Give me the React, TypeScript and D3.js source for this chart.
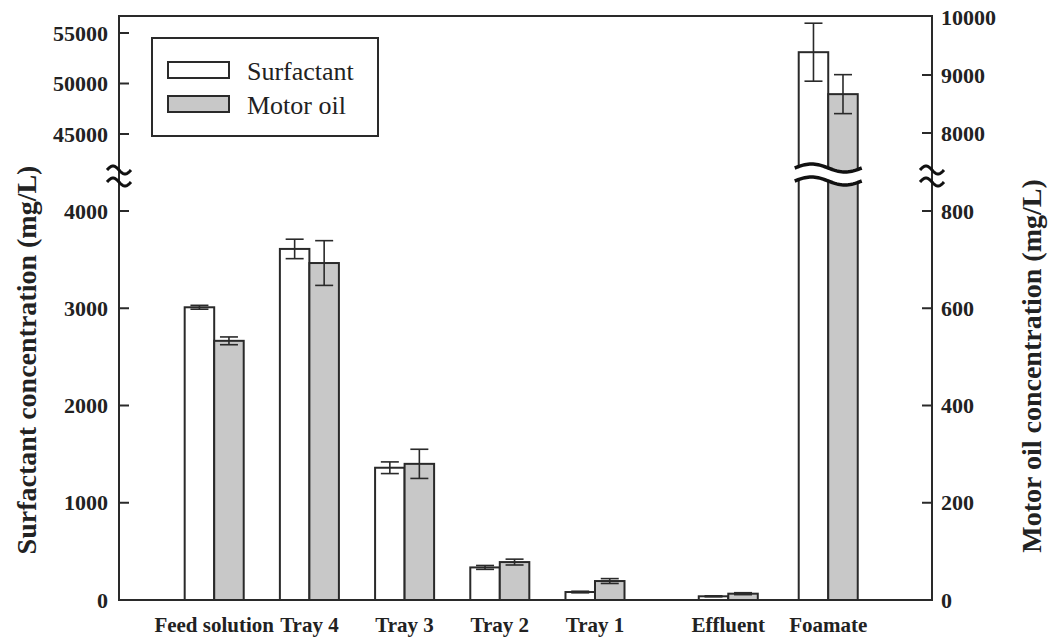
import React from "react";
import * as d3 from "d3";

const categories = ["Feed solution", "Tray 4", "Tray 3", "Tray 2", "Tray 1", "Effluent", "Foamate"];
const xPositions = [1, 2, 3, 4, 5, 6.4, 7.45];
const surfactant = [3010, 3610, 1360, 335, 82, 38, 53100];
const surfactantErr = [20, 100, 60, 20, 8, 5, 2870];
const motorOil = [533, 693, 280, 78, 39, 13, 8670];
const motorOilErr = [8, 46, 30, 6, 5, 2, 336];

const leftTicksLow = [0, 1000, 2000, 3000, 4000];
const leftTicksHigh = [45000, 50000, 55000];
const rightTicksLow = [0, 200, 400, 600, 800];
const rightTicksHigh = [8000, 9000, 10000];

const width = 1049;
const height = 639;
const margin = { top: 16, right: 117, bottom: 39, left: 119 };
const font = "Liberation Serif, DejaVu Serif, serif";
const ink = "#2a2a2a";

// wavy line used for the axis break marks
function wave(x0: number, x1: number, y: number, amp: number) {
  const pts: [number, number][] = d3.range(0, 41).map((i) => {
    const t = i / 40;
    return [x0 + (x1 - x0) * t, y - amp * Math.sin(2 * Math.PI * t)];
  });
  return d3.line()(pts) as string;
}

export default function App() {
  const x = d3
    .scaleLinear()
    .domain([0, 8.54])
    .range([margin.left, width - margin.right]);

  const bottom = height - margin.bottom;
  const leftLow = d3.scaleLinear().domain([0, 4000]).range([bottom, 211]);
  const leftHigh = d3.scaleLinear().domain([45000, 55000]).range([134, 33]);
  const rightLow = d3.scaleLinear().domain([0, 800]).range([bottom, 211]);
  const rightHigh = d3.scaleLinear().domain([8000, 10000]).range([133, 17]);

  const yLeft = (v: number) => (v > 4500 ? leftHigh(v) : leftLow(v));
  const yRight = (v: number) => (v > 900 ? rightHigh(v) : rightLow(v));

  const bw = x(0.31) - x(0);
  const capW = 18;
  const x0 = margin.left;
  const x1 = width - margin.right;
  const breakTop = 168;
  const breakBot = 181;

  const txt = { fontFamily: font };

  const errorBar = (cx: number, y: (v: number) => number, v: number, e: number, key: string) => (
    <g key={key} stroke={ink} strokeWidth={1.6}>
      <line x1={cx} x2={cx} y1={y(v + e)} y2={y(v - e)} />
      <line x1={cx - capW / 2} x2={cx + capW / 2} y1={y(v + e)} y2={y(v + e)} />
      <line x1={cx - capW / 2} x2={cx + capW / 2} y1={y(v - e)} y2={y(v - e)} />
    </g>
  );

  const foamIdx = categories.indexOf("Foamate");
  const fx = x(xPositions[foamIdx]);

  return (
    <svg
      width={width}
      height={height}
      style={{ position: "fixed", left: 0, top: 0, background: "#fff", fontFamily: font }}
    >
      {/* bars */}
      {categories.map((c, i) => {
        const cx = x(xPositions[i]);
        return (
          <g key={c}>
            <rect
              x={cx - bw}
              y={yLeft(surfactant[i])}
              width={bw}
              height={bottom - yLeft(surfactant[i])}
              fill="#fff"
              stroke={ink}
              strokeWidth={2}
            />
            <rect
              x={cx}
              y={yRight(motorOil[i])}
              width={bw}
              height={bottom - yRight(motorOil[i])}
              fill="#c8c8c8"
              stroke={ink}
              strokeWidth={2}
            />
          </g>
        );
      })}

      {/* bar break on Foamate */}
      <path
        d={
          wave(fx - bw - 4, fx + bw + 4, breakTop, 4) +
          "L" + (fx + bw + 4) + "," + breakBot +
          wave(fx + bw + 4, fx - bw - 4, breakBot, -4).replace(/^M/, "L") +
          "Z"
        }
        fill="#fff"
        stroke="none"
      />
      <path d={wave(fx - bw - 4, fx + bw + 4, breakTop, 4)} fill="none" stroke="#111" strokeWidth={3.5} />
      <path d={wave(fx - bw - 4, fx + bw + 4, breakBot, 4)} fill="none" stroke="#111" strokeWidth={3.5} />

      {/* error bars */}
      {categories.map((c, i) => {
        const cx = x(xPositions[i]);
        return (
          <g key={"e" + c}>
            {errorBar(cx - bw / 2, yLeft, surfactant[i], surfactantErr[i], "s" + i)}
            {errorBar(cx + bw / 2, yRight, motorOil[i], motorOilErr[i], "m" + i)}
          </g>
        );
      })}

      {/* frame */}
      <rect
        x={x0}
        y={margin.top}
        width={x1 - x0}
        height={bottom - margin.top}
        fill="none"
        stroke={ink}
        strokeWidth={2}
      />

      {/* left ticks */}
      {[...leftTicksLow.map((t) => [t, leftLow(t)]), ...leftTicksHigh.map((t) => [t, leftHigh(t)])].map(
        ([t, y]) => (
          <g key={"l" + t}>
            {t !== 0 && <line x1={x0} x2={x0 + 10} y1={y} y2={y} stroke={ink} strokeWidth={2} />}
            <text
              x={108}
              y={y}
              textAnchor="end"
              dominantBaseline="central"
              fontSize={22}
              fontWeight="bold"
              fill="#222"
              style={txt}
            >
              {t}
            </text>
          </g>
        )
      )}

      {/* right ticks */}
      {[...rightTicksLow.map((t) => [t, rightLow(t)]), ...rightTicksHigh.map((t) => [t, rightHigh(t)])].map(
        ([t, y]) => (
          <g key={"r" + t}>
            {t !== 0 && t !== 10000 && (
              <line x1={x1 - 10} x2={x1} y1={y} y2={y} stroke={ink} strokeWidth={2} />
            )}
            <text
              x={941}
              y={y}
              textAnchor="start"
              dominantBaseline="central"
              fontSize={22}
              fontWeight="bold"
              fill="#222"
              style={txt}
            >
              {t}
            </text>
          </g>
        )
      )}

      {/* axis break marks */}
      {[x0, x1].map((ax) => (
        <g key={"b" + ax} fill="none" stroke="#111" strokeWidth={3}>
          <path d={wave(ax - 12, ax + 12, 170, 4)} />
          <path d={wave(ax - 12, ax + 12, 182, 4)} />
        </g>
      ))}

      {/* category labels */}
      {categories.map((c, i) => (
        <text
          key={"c" + c}
          x={x(xPositions[i])}
          y={632}
          textAnchor="middle"
          fontSize={21}
          fontWeight="bold"
          fill="#222"
          style={txt}
        >
          {c}
        </text>
      ))}

      {/* axis titles */}
      <text
        transform="translate(26,360) rotate(-90)"
        textAnchor="middle"
        dominantBaseline="central"
        fontSize={28}
        fontWeight="bold"
        fill="#222"
        style={txt}
      >
        Surfactant concentration (mg/L)
      </text>
      <text
        transform="translate(1031,366) rotate(-90)"
        textAnchor="middle"
        dominantBaseline="central"
        fontSize={28}
        fontWeight="bold"
        fill="#222"
        style={txt}
      >
        Motor oil concentration (mg/L)
      </text>

      {/* legend */}
      <g>
        <rect x={152} y={38} width={226} height={98} fill="#fff" stroke={ink} strokeWidth={2} />
        <rect x={168} y={62} width={61} height={16} fill="#fff" stroke={ink} strokeWidth={2} />
        <rect x={168} y={96} width={61} height={16} fill="#c8c8c8" stroke={ink} strokeWidth={2} />
        <text x={247} y={80} fontSize={26} fill="#222" style={txt}>
          Surfactant
        </text>
        <text x={247} y={114} fontSize={26} fill="#222" style={txt}>
          Motor oil
        </text>
      </g>
    </svg>
  );
}
